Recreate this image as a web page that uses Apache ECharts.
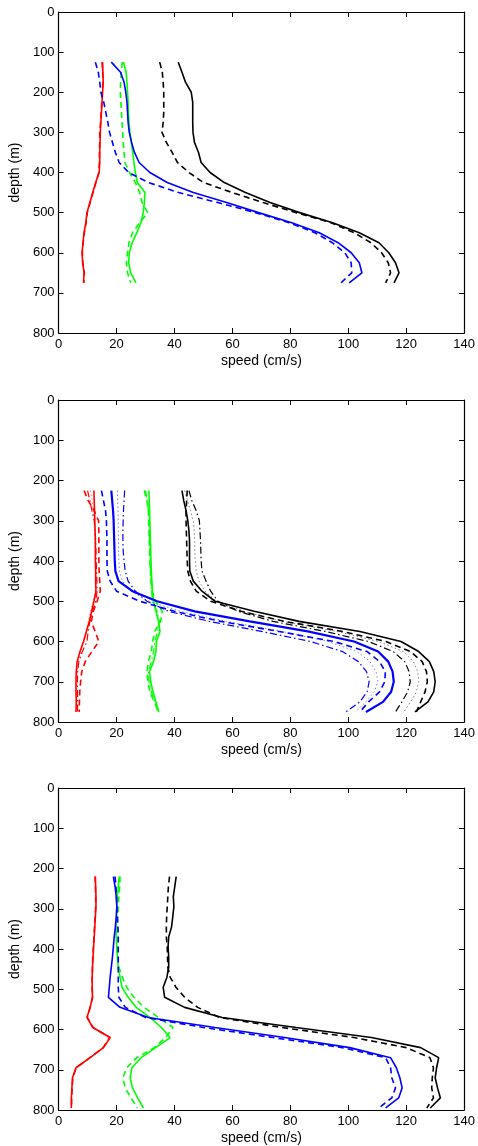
<!DOCTYPE html>
<html>
<head>
<meta charset="utf-8">
<script src="https://cdn.jsdelivr.net/npm/echarts@6/dist/echarts.min.js"></script>
<style>html,body{margin:0;padding:0;background:#fff;}#c{width:478px;height:1146px;}</style>
</head>
<body>
<div id="c"></div>
<script>
// ---------- tick labels ----------
var speedTicks = [0, 20, 40, 60, 80, 100, 120, 140];
var depthTicks = [0, 100, 200, 300, 400, 500, 600, 700, 800];

// ---------- panel 1 ----------
var depth1 = [125,150,175,200,225,250,275,300,325,350,375,400,425,450,475,500,525,550,575,600,625,650,675];
var red1Solid   = [15.2,15.3,15.4,15.2,15.0,14.8,14.6,14.4,14.3,14.2,14.2,14.0,12.8,11.8,10.8,9.8,9.4,8.8,8.4,8.1,8.3,8.8,8.6];
var red1Dash    = [15.0,15.2,15.3,15.1,14.9,14.7,14.5,14.2,14.2,14.1,14.1,13.9,12.9,11.9,10.9,9.9,9.5,8.9,8.5,8.2,8.4,8.9,8.7];
var blue1Solid  = [18.2,21.4,22.6,23.2,23.6,23.8,24.0,24.4,25.2,26.2,27.8,31.5,37.5,46.5,58.0,69.0,80.5,90.0,96.5,101.0,103.8,104.7,100.3];
var blue1Dash   = [12.7,13.7,14.2,14.6,15.6,16.3,17.0,17.6,18.6,19.6,20.9,24.2,31.0,41.5,55.0,68.0,79.5,88.5,94.5,98.8,101.0,101.2,97.5];
var green1Solid = [22.4,23.3,23.6,23.8,24.0,24.1,24.3,24.6,25.1,25.6,26.0,26.5,27.2,29.8,29.6,29.2,28.4,27.0,25.4,24.4,24.2,24.9,26.7];
var green1Dash  = [22.0,21.6,21.4,21.3,21.5,21.7,21.9,22.1,22.3,22.6,22.9,24.5,26.5,28.0,28.8,30.8,28.0,25.5,24.3,23.8,23.4,23.8,24.9];
var black1Solid = [41.3,42.6,43.8,45.8,46.3,46.3,46.3,46.4,46.9,48.3,49.2,52.3,57.2,64.5,73.0,83.2,94.6,103.8,110.6,114.0,116.3,117.5,115.8];
var black1Dash  = [34.9,35.8,36.1,36.3,36.3,36.3,36.1,35.7,37.2,39.2,41.0,45.0,50.0,60.0,70.6,82.0,94.0,102.0,107.8,111.5,113.8,114.6,112.9];

// ---------- panel 2 ----------
var depth2 = [225,250,275,300,325,350,375,400,425,450,475,500,525,550,575,600,625,650,675,700,725,750,775];
var red2Solid    = [12.2,12.3,12.4,12.5,12.6,12.7,12.7,12.7,12.8,12.8,12.9,12.2,11.4,10.6,9.6,8.6,7.4,6.4,6.1,6.0,6.0,6.1,6.0];
var red2Dash     = [8.8,10.2,12.3,13.8,13.9,13.9,13.9,13.9,14.0,14.2,14.4,13.3,12.0,11.3,12.6,13.9,11.5,9.2,8.0,7.6,7.3,7.2,7.1];
var red2DashDot  = [10.0,10.8,11.5,12.3,12.6,12.8,12.9,13.0,13.1,13.2,13.3,12.8,11.8,10.8,10.2,9.8,8.2,7.0,6.6,6.5,6.5,6.6,6.5];
var red2Dot      = [11.0,11.6,12.0,12.3,12.4,12.5,12.6,12.6,12.7,12.7,12.6,12.0,11.0,10.2,9.6,8.8,7.6,6.8,6.4,6.2,6.2,6.3,6.2];
var blue2Solid   = [18.2,18.5,18.8,19.0,19.1,19.2,19.3,19.4,19.6,20.7,25.5,34.0,47.0,66.0,86.0,102.0,110.3,113.8,115.3,115.7,114.8,112.0,106.1];
var blue2Dash    = [14.8,15.5,16.2,16.5,16.6,16.7,16.7,16.7,16.8,17.8,20.0,28.0,40.0,56.0,76.0,95.0,106.5,110.8,112.8,112.6,110.8,107.0,104.0];
var blue2DashDot = [22.8,22.6,22.4,22.3,22.2,22.2,22.3,22.6,23.0,24.0,26.5,30.5,38.0,52.0,70.0,87.0,98.0,103.5,106.3,107.2,106.5,104.0,99.2];
var blue2Dot     = [20.3,20.4,20.5,20.6,20.6,20.7,20.7,20.8,21.0,22.0,25.0,31.0,42.0,58.0,77.0,93.0,103.0,107.5,109.6,110.2,109.0,106.0,102.5];
var green2Solid  = [31.2,31.3,31.4,31.5,31.6,31.7,31.8,31.9,32.0,32.2,32.4,32.8,33.6,34.5,35.0,33.8,33.6,32.8,31.4,31.8,32.6,33.6,34.6];
var green2Dash   = [29.6,30.5,31.0,31.1,31.2,31.3,31.4,31.5,31.7,31.9,32.3,33.5,35.8,35.2,33.2,32.5,32.0,31.0,30.5,30.8,31.5,33.0,34.8];
var green2DashDot= [30.0,30.6,31.0,31.2,31.3,31.4,31.5,31.6,31.7,31.9,32.1,32.4,34.0,34.8,34.2,33.2,32.8,32.0,31.0,31.2,32.0,33.2,34.2];
var green2Dot    = [30.5,30.9,31.2,31.3,31.4,31.5,31.6,31.7,31.8,32.0,32.2,32.6,33.8,34.6,34.6,33.5,33.2,32.4,31.2,31.5,32.3,33.4,34.4];
var black2Solid  = [42.6,43.2,44.0,44.6,45.0,45.2,45.2,45.2,45.3,46.5,49.5,54.0,67.5,83.0,104.0,118.2,124.3,128.0,129.5,130.0,129.5,127.5,123.0];
var black2Dash   = [44.4,44.2,44.0,44.0,44.1,44.2,44.3,44.4,44.6,45.5,47.5,52.5,63.0,78.0,98.0,113.0,121.5,125.5,127.0,127.3,126.5,125.0,123.5];
var black2DashDot= [45.0,46.0,47.5,48.6,48.8,49.0,49.1,49.2,49.5,50.9,52.5,55.0,62.0,74.0,92.0,107.0,115.5,119.5,121.0,121.4,120.5,118.5,116.3];
var black2Dot    = [43.5,44.5,45.5,46.5,46.8,47.0,47.0,47.2,47.5,48.5,50.5,54.5,64.0,77.0,96.0,110.5,119.0,122.5,124.0,124.3,123.5,121.5,119.2];

// ---------- panel 3 ----------
var depth3 = [220,245,270,295,320,345,370,395,420,445,470,495,520,545,570,595,620,645,670,695,720,745,770,795];
var red3Solid   = [12.7,12.8,12.9,12.9,12.7,12.5,12.3,12.1,11.9,11.7,11.6,11.6,11.7,10.9,9.8,11.8,17.8,15.5,10.9,6.0,4.8,4.6,4.4,4.4];
var red3Dash    = [12.6,12.7,12.8,12.8,12.6,12.4,12.2,12.0,11.8,11.7,11.6,11.6,11.7,10.9,9.9,11.9,17.7,15.4,10.8,6.1,4.9,4.7,4.5,4.5];
var blue3Solid  = [18.9,19.5,19.9,20.1,19.9,19.6,19.2,18.9,18.6,18.2,17.8,17.5,17.2,21.2,31.0,54.0,78.0,100.5,114.6,116.6,117.8,118.6,117.4,112.9];
var blue3Dash   = [19.5,19.8,20.0,20.1,20.3,20.5,20.6,20.6,20.6,20.6,20.6,20.6,20.8,23.0,30.0,50.0,74.0,98.0,112.9,114.6,115.0,116.3,115.0,110.6];
var green3Solid = [20.9,20.6,20.3,20.1,20.0,19.8,19.9,20.1,20.3,20.6,21.2,21.9,24.0,26.8,31.5,35.5,38.5,33.5,28.5,25.3,24.7,25.5,27.3,29.3];
var green3Dash  = [21.2,21.1,20.8,20.6,20.4,20.2,20.1,20.2,20.4,20.8,22.0,23.5,26.0,29.5,34.5,39.5,37.0,33.0,27.0,23.5,22.2,23.0,25.0,27.2];
var black3Solid = [40.6,40.1,39.6,39.8,39.4,39.0,38.0,37.8,38.0,38.0,37.4,36.1,36.6,43.5,56.5,82.0,108.0,125.0,131.2,130.5,130.0,130.8,131.8,128.3];
var black3Dash  = [38.3,37.9,37.7,37.5,37.3,37.2,37.2,37.5,37.6,37.7,38.5,40.5,43.5,48.0,55.5,77.0,102.0,120.0,128.2,129.4,129.0,128.8,129.4,127.1];

// ---------- styles ----------
var DASH = [6, 4], DASHDOT = [7, 3, 1.5, 3], DOT = [1.5, 2.5];
var FONT = 'Liberation Sans';

function pairs(depths, speeds) {
  return speeds.map(function (v, i) { return [v, depths[i]]; });
}
function line(idx, depths, speeds, color, type, width) {
  return {
    type: 'line', xAxisIndex: idx * 2, yAxisIndex: idx * 2,
    data: pairs(depths, speeds), showSymbol: false, symbol: 'none',
    silent: true, animation: false, clip: true,
    lineStyle: { color: color, type: type, width: width }
  };
}

var grids = [
  { left: 57, top: 12, width: 409, height: 321 },
  { left: 56, top: 400, width: 410, height: 322 },
  { left: 56, top: 788, width: 410, height: 322 }
];

var xAxes = [], yAxes = [];
grids.forEach(function (g, i) {
  var lab = { color: '#000', fontFamily: FONT, fontSize: 13, margin: 5 };
  xAxes.push({
    gridIndex: i, type: 'value', position: 'bottom', min: speedTicks[0], max: speedTicks[speedTicks.length - 1], interval: 20,
    name: 'speed (cm/s)', nameLocation: 'middle', nameGap: 21,
    nameTextStyle: { color: '#000', fontFamily: FONT, fontSize: 14 },
    axisLine: { show: true, onZero: false, lineStyle: { color: '#000', width: 1.2 } },
    axisTick: { show: true, inside: true, length: 5, lineStyle: { color: '#000' } },
    axisLabel: lab, splitLine: { show: false }
  });
  xAxes.push({
    gridIndex: i, type: 'value', position: 'top', min: 0, max: 140, interval: 20,
    axisLine: { show: true, onZero: false, lineStyle: { color: '#000', width: 1.2 } },
    axisTick: { show: true, inside: true, length: 5, lineStyle: { color: '#000' } },
    axisLabel: { show: false }, splitLine: { show: false }
  });
  yAxes.push({
    gridIndex: i, type: 'value', position: 'left', inverse: true, min: depthTicks[0], max: depthTicks[depthTicks.length - 1], interval: 100,
    name: 'depth (m)', nameLocation: 'middle', nameGap: 33, nameRotate: 90,
    nameTextStyle: { color: '#000', fontFamily: FONT, fontSize: 14 },
    axisLine: { show: true, onZero: false, lineStyle: { color: '#000', width: 1.2 } },
    axisTick: { show: true, inside: true, length: 5, lineStyle: { color: '#000' } },
    axisLabel: { color: '#000', fontFamily: FONT, fontSize: 13, margin: 4, showMinLabel: true, showMaxLabel: true },
    splitLine: { show: false }
  });
  yAxes.push({
    gridIndex: i, type: 'value', position: 'right', inverse: true, min: 0, max: 800, interval: 100,
    axisLine: { show: true, onZero: false, lineStyle: { color: '#000', width: 1.2 } },
    axisTick: { show: true, inside: true, length: 5, lineStyle: { color: '#000' } },
    axisLabel: { show: false }, splitLine: { show: false }
  });
});

var W = 1.6, W2 = 2.2;
var series = [
  line(0, depth1, red1Dash, '#ff0000', DASH, W),
  line(0, depth1, red1Solid, '#ff0000', 'solid', W),
  line(0, depth1, green1Dash, '#00ff00', DASH, W),
  line(0, depth1, green1Solid, '#00ff00', 'solid', W),
  line(0, depth1, blue1Dash, '#0000ff', DASH, W),
  line(0, depth1, blue1Solid, '#0000ff', 'solid', W),
  line(0, depth1, black1Dash, '#000000', DASH, W),
  line(0, depth1, black1Solid, '#000000', 'solid', W),

  line(1, depth2, red2Dot, '#ff8080', DOT, 1),
  line(1, depth2, red2DashDot, '#ff0000', DASHDOT, 1.2),
  line(1, depth2, red2Dash, '#ff0000', DASH, W),
  line(1, depth2, red2Solid, '#ff0000', 'solid', W),
  line(1, depth2, green2Dot, '#80ff80', DOT, 1),
  line(1, depth2, green2DashDot, '#00ff00', DASHDOT, 1.2),
  line(1, depth2, green2Dash, '#00ff00', DASH, W),
  line(1, depth2, green2Solid, '#00ff00', 'solid', W),
  line(1, depth2, blue2Dot, '#8080ff', DOT, 1),
  line(1, depth2, blue2DashDot, '#0000ff', DASHDOT, 1.2),
  line(1, depth2, blue2Dash, '#0000ff', DASH, W),
  line(1, depth2, blue2Solid, '#0000ff', 'solid', W2),
  line(1, depth2, black2Dot, '#808080', DOT, 1),
  line(1, depth2, black2DashDot, '#000000', DASHDOT, 1.2),
  line(1, depth2, black2Dash, '#000000', DASH, W),
  line(1, depth2, black2Solid, '#000000', 'solid', W),

  line(2, depth3, red3Dash, '#ff0000', DASH, W),
  line(2, depth3, red3Solid, '#ff0000', 'solid', W),
  line(2, depth3, green3Dash, '#00ff00', DASH, W),
  line(2, depth3, green3Solid, '#00ff00', 'solid', W),
  line(2, depth3, blue3Dash, '#0000ff', DASH, W),
  line(2, depth3, blue3Solid, '#0000ff', 'solid', W),
  line(2, depth3, black3Dash, '#000000', DASH, W),
  line(2, depth3, black3Solid, '#000000', 'solid', W)
];

var chart = echarts.init(document.getElementById('c'), null, { renderer: 'canvas' });
chart.setOption({
  animation: false,
  backgroundColor: '#ffffff',
  grid: grids,
  xAxis: xAxes,
  yAxis: yAxes,
  series: series
});
</script>
</body>
</html>
